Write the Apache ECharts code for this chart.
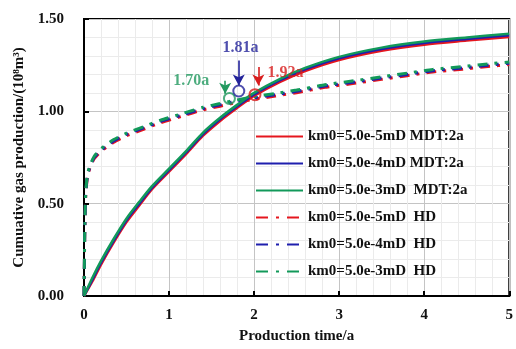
<!DOCTYPE html>
<html>
<head>
<meta charset="utf-8">
<script src="https://cdn.jsdelivr.net/npm/echarts@6/dist/echarts.min.js"></script>
<style>html,body{margin:0;padding:0;background:#fff}#c{width:516px;height:349px}</style>
</head>
<body>
<div id="c"></div>
<script>
// ---- data ----
const xTicks = [0, 1, 2, 3, 4, 5];
const yTicks = [0, 0.5, 1.0, 1.5];
const seriesNames = [
  'km0=5.0e-5mD MDT:2a',
  'km0=5.0e-4mD MDT:2a',
  'km0=5.0e-3mD  MDT:2a',
  'km0=5.0e-5mD  HD',
  'km0=5.0e-4mD  HD',
  'km0=5.0e-3mD  HD'
];
const mdtX = [0, 0.1, 0.2, 0.35, 0.5, 0.65, 0.8, 1.0, 1.2, 1.4, 1.6, 1.8, 2.0, 2.3, 2.6, 3.0, 3.5, 4.0, 4.5, 5.0];
const mdtRed   = [0, 0.08, 0.17, 0.29, 0.40, 0.49, 0.578, 0.673, 0.768, 0.868, 0.948, 1.018, 1.083, 1.158, 1.218, 1.278, 1.328, 1.361, 1.383, 1.403];
const mdtBlue  = [0, 0.09, 0.18, 0.30, 0.41, 0.50, 0.587, 0.682, 0.777, 0.877, 0.957, 1.027, 1.092, 1.167, 1.227, 1.287, 1.337, 1.370, 1.392, 1.412];
const mdtGreen = [0, 0.10, 0.19, 0.31, 0.42, 0.51, 0.595, 0.690, 0.785, 0.885, 0.965, 1.035, 1.100, 1.175, 1.235, 1.295, 1.345, 1.378, 1.400, 1.420];
const hdX = [0, 0.005, 0.01, 0.02, 0.04, 0.07, 0.12, 0.2, 0.35, 0.5, 0.7, 0.9, 1.15, 1.4, 1.6, 1.8, 2.0, 2.25, 2.5, 2.85, 3.2, 3.5, 3.8, 4.1, 4.45, 4.75, 5.0];
const hdRed   = [0, 0.19, 0.37, 0.54, 0.643, 0.693, 0.743, 0.783, 0.833, 0.868, 0.903, 0.938, 0.973, 1.008, 1.028, 1.048, 1.065, 1.083, 1.101, 1.131, 1.153, 1.173, 1.193, 1.213, 1.228, 1.243, 1.253];
const hdBlue  = [0, 0.20, 0.38, 0.55, 0.650, 0.700, 0.750, 0.790, 0.840, 0.875, 0.910, 0.945, 0.980, 1.015, 1.035, 1.055, 1.072, 1.090, 1.108, 1.138, 1.160, 1.180, 1.200, 1.220, 1.235, 1.250, 1.260];
const hdGreen = [0, 0.21, 0.39, 0.56, 0.657, 0.707, 0.757, 0.797, 0.847, 0.882, 0.917, 0.952, 0.987, 1.022, 1.042, 1.062, 1.079, 1.097, 1.115, 1.145, 1.167, 1.187, 1.207, 1.227, 1.242, 1.257, 1.267];
// annotations: labels, circle markers, arrows
const noteText = ['1.70a', '1.81a', '1.92a'];
const noteX = [1.26, 1.84, 2.37];
const noteY = [1.165, 1.345, 1.21];
const circleX = [1.71, 1.82, 2.01];
const circleY = [1.07, 1.11, 1.09];
const arrowX = [1.66, 1.82, 2.05];
const arrowTop = [1.165, 1.275, 1.24];
const arrowBottom = [1.095, 1.14, 1.14];

const RED = '#e5161e', BLUE = '#1f1fae', GREEN = '#12995a';
const colors = [RED, BLUE, GREEN];
const noteColors = ['#22995f', '#23239a', '#d81d1d'];
const FONT = 'Liberation Serif';
const dashDot = [10, 7, 3, 7];

function pairs(xs, ys) { return xs.map((x, i) => [x, ys[i]]); }

const lineSeries = [];
const hdData = [hdRed, hdBlue, hdGreen];
const mdtData = [mdtRed, mdtBlue, mdtGreen];
for (let i = 0; i < 3; i++) {
  lineSeries.push({
    name: seriesNames[3 + i], type: 'line', showSymbol: false, symbol: 'none',
    smooth: 0.2, z: 2,
    data: pairs(hdX, hdData[i]),
    lineStyle: { color: colors[i], width: 3, type: dashDot },
    itemStyle: { color: colors[i] }
  });
}
for (let i = 0; i < 3; i++) {
  lineSeries.push({
    name: seriesNames[i], type: 'line', showSymbol: false, symbol: 'none',
    smooth: 0.3, z: 3,
    data: pairs(mdtX, mdtData[i]),
    lineStyle: { color: colors[i], width: 2.5, type: 'solid' },
    itemStyle: { color: colors[i] }
  });
}

const circleSeries = {
  type: 'scatter', z: 5, symbol: 'circle', symbolSize: 11,
  data: circleX.map((x, i) => ({
    value: [x, circleY[i]],
    itemStyle: { color: 'rgba(255,255,255,0)', borderColor: noteColors[i], borderWidth: 2 }
  })),
  markLine: {
    silent: true, symbol: ['none', 'arrow'], symbolSize: [9, 11],
    label: { show: false },
    data: arrowX.map((x, i) => [
      { coord: [x, arrowTop[i]], lineStyle: { color: noteColors[i], width: 1.6, type: 'solid' } },
      { coord: [x, arrowBottom[i]] }
    ])
  }
};
const noteSeries = {
  type: 'scatter', z: 6, symbol: 'circle', symbolSize: 1,
  itemStyle: { color: 'rgba(0,0,0,0)' },
  data: noteX.map((x, i) => ({
    value: [x, noteY[i]],
    label: {
      show: true, position: 'inside', formatter: noteText[i],
      color: noteColors[i], fontFamily: FONT, fontWeight: 'bold', fontSize: 16
    }
  }))
};

const legendData = [0, 1, 2, 3, 4, 5].map(i => (i < 3
  ? { name: seriesNames[i] }
  : { name: seriesNames[i], lineStyle: { type: [12, 8, 3, 8] } }));

const chart = echarts.init(document.getElementById('c'), null, { renderer: 'canvas' });
chart.setOption({
  animation: false,
  backgroundColor: '#fff',
  grid: { left: 84, right: 4, top: 19, bottom: 53, show: true, borderColor: '#000', borderWidth: 2, backgroundColor: 'transparent' },
  legend: {
    orient: 'vertical', left: 250, top: 124, itemWidth: 47, itemHeight: 14, itemGap: 12,
    data: legendData,
    itemStyle: { color: 'rgba(0,0,0,0)', borderWidth: 0, opacity: 0 },
    textStyle: { fontFamily: FONT, fontWeight: 'bold', fontSize: 15, color: '#111', lineHeight: 14 }
  },
  xAxis: {
    type: 'value', min: xTicks[0], max: xTicks[xTicks.length - 1], interval: 1,
    name: 'Production time/a', nameLocation: 'middle', nameGap: 33,
    nameTextStyle: { fontFamily: FONT, fontWeight: 'bold', fontSize: 15, color: '#111' },
    axisLine: { lineStyle: { color: '#000', width: 2 } },
    axisTick: { inside: true, length: 5, lineStyle: { color: '#000', width: 2 } },
    axisLabel: { margin: 12, fontFamily: FONT, fontWeight: 'bold', fontSize: 15, color: '#111' },
    splitLine: { show: true, lineStyle: { color: '#c4c4c4', width: 1 } },
    minorTick: { show: false, splitNumber: 5 },
    minorSplitLine: { show: true, lineStyle: { color: '#ebebeb', width: 1 } }
  },
  yAxis: {
    type: 'value', min: yTicks[0], max: yTicks[yTicks.length - 1], interval: 0.5,
    name: 'Cumuative gas production/(10\u2078m\u00B3)', nameLocation: 'middle', nameGap: 55,
    nameTextStyle: { fontFamily: FONT, fontWeight: 'bold', fontSize: 15, color: '#111' },
    axisLine: { lineStyle: { color: '#000', width: 2 } },
    axisTick: { inside: true, length: 5, lineStyle: { color: '#000', width: 2 } },
    axisLabel: { margin: 20, fontFamily: FONT, fontWeight: 'bold', fontSize: 15, color: '#111', formatter: v => v.toFixed(2) },
    splitLine: { show: true, lineStyle: { color: '#c4c4c4', width: 1 } },
    minorTick: { show: false, splitNumber: 5 },
    minorSplitLine: { show: true, lineStyle: { color: '#ebebeb', width: 1 } }
  },
  series: lineSeries.concat([circleSeries, noteSeries])
});
</script>
</body>
</html>
